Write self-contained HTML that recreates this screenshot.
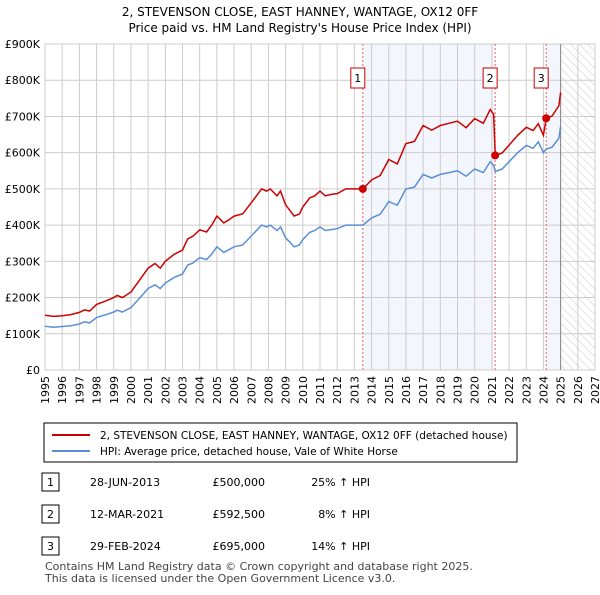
<!DOCTYPE html>
<html><head><meta charset="utf-8"><style>
body{margin:0;background:#fff;font-family:"Liberation Sans","DejaVu Sans",sans-serif;}
svg text{font-family:"DejaVu Sans","Liberation Sans",sans-serif;}
</style></head><body>
<svg id="chart" width="600" height="590" xmlns="http://www.w3.org/2000/svg">
<defs><pattern id="hatch" width="6" height="6" patternUnits="userSpaceOnUse" patternTransform="rotate(-45)"><line x1="0" y1="0" x2="0" y2="6" stroke="#ccc" stroke-width="1"/></pattern></defs>
<text x="300" y="16" text-anchor="middle" font-size="12" fill="#000">2, STEVENSON CLOSE, EAST HANNEY, WANTAGE, OX12 0FF</text>
<text x="300" y="32" text-anchor="middle" font-size="12" fill="#000">Price paid vs. HM Land Registry's House Price Index (HPI)</text>
<g id="plot"></g>
<g>
<rect x="44" y="423" width="473" height="39" fill="#fff" stroke="#000" stroke-width="1"/>
<line x1="52" y1="435" x2="90" y2="435" stroke="#cc0000" stroke-width="2"/>
<text x="100" y="439" font-size="10.5">2, STEVENSON CLOSE, EAST HANNEY, WANTAGE, OX12 0FF (detached house)</text>
<line x1="52" y1="451" x2="90" y2="451" stroke="#5b8ed6" stroke-width="2"/>
<text x="100" y="455" font-size="10.5">HPI: Average price, detached house, Vale of White Horse</text>
</g>
<g id="table" font-size="11"></g>
<text x="45" y="570" font-size="11" fill="#444">Contains HM Land Registry data © Crown copyright and database right 2025.</text>
<text x="45" y="582" font-size="11" fill="#444">This data is licensed under the Open Government Licence v3.0.</text>
</svg>
<script>
const years=[1995.0,1995.5,1996.0,1996.5,1997.0,1997.3,1997.6,1998.0,1998.5,1999.0,1999.2,1999.5,2000.0,2000.5,2001.0,2001.4,2001.7,2002.0,2002.5,2003.0,2003.3,2003.6,2004.0,2004.4,2004.7,2005.0,2005.4,2005.7,2006.0,2006.5,2007.0,2007.6,2007.9,2008.1,2008.5,2008.7,2009.0,2009.5,2009.8,2010.0,2010.4,2010.7,2011.0,2011.3,2011.7,2012.0,2012.5,2013.0,2013.5,2014.0,2014.5,2015.0,2015.5,2016.0,2016.5,2017.0,2017.5,2018.0,2018.5,2019.0,2019.5,2020.0,2020.5,2020.9,2021.1,2021.2,2021.6,2022.0,2022.5,2023.0,2023.4,2023.7,2024.0,2024.16,2024.5,2024.9,2025.0];
const hpi=[121,118,120,122,127,133,130,145,152,160,165,160,172,198,225,235,225,240,255,265,290,295,310,305,320,340,325,332,340,345,370,400,395,400,385,395,365,340,345,360,380,385,395,385,388,390,400,400,400,420,430,465,455,500,505,540,530,540,545,550,535,555,545,575,565,548,555,575,600,620,612,630,600,610,615,640,672];
const price=[151,148,150,153,159,166,163,181,190,200,206,200,215,248,281,294,281,300,319,331,362,369,387,381,400,425,406,415,425,431,462,500,494,500,481,494,456,425,431,450,475,481,494,481,485,487,500,500,500,525,537,581,569,625,631,675,662,675,681,687,669,694,681,719,706,592,599,621,648,670,661,680,648,695,701,730,766];
const saleYears=[2013.49,2021.19,2024.16];
const salePrices=[500,592.5,695];
const saleLabels=["1","2","3"];
const saleDates=["28-JUN-2013","12-MAR-2021","29-FEB-2024"];
const salePriceText=["£500,000","£592,500","£695,000"];
const saleHpiText=["25% ↑ HPI","8% ↑ HPI","14% ↑ HPI"];
const yTicks=[0,100,200,300,400,500,600,700,800,900];
const yTickLabels=["£0","£100K","£200K","£300K","£400K","£500K","£600K","£700K","£800K","£900K"];
const x0=45,x1=595,y0=370,y1=44,ymin=1995,ymax=2027;
const X=v=>x0+(v-ymin)/(ymax-ymin)*(x1-x0);
const Y=v=>y0-v/900*(y0-y1);
const NS="http://www.w3.org/2000/svg";
const plot=document.getElementById('plot');
function mk(tag,attrs,parent){const e=document.createElementNS(NS,tag);for(const k in attrs)e.setAttribute(k,attrs[k]);(parent||plot).appendChild(e);return e;}
let r=mk('rect',{x:X(saleYears[0]),y:y1,width:X(saleYears[1])-X(saleYears[0]),height:y0-y1,fill:'#eef2fc',opacity:0.7});


r=mk('rect',{x:X(saleYears[2]),y:y1,width:X(2025)-X(saleYears[2]),height:y0-y1,fill:'#eef2fc',opacity:0.7});


r=mk('rect',{x:X(2025),y:y1,width:X(2027)-X(2025),height:y0-y1,fill:'url(#hatch)'});


for(let yr=1995;yr<=2027;yr++){
 mk('line',{x1:X(yr),x2:X(yr),y1:y1,y2:y0,stroke:'#ccc','stroke-width':1});
 const t=mk('text',{x:0,y:0,transform:`translate(${X(yr)+4},376) rotate(-90)`,'text-anchor':'end','font-size':11});
 t.textContent=yr;
 
 
}
yTicks.forEach((v,i)=>{
 mk('line',{x1:x0,x2:x1,y1:Y(v),y2:Y(v),stroke:'#ccc','stroke-width':1});
 const t=mk('text',{x:40,y:Y(v)+4,'text-anchor':'end','font-size':11});
 t.textContent=yTickLabels[i];
 
 
});
mk('line',{x1:X(2025),x2:X(2025),y1:y1,y2:y0,stroke:'#888','stroke-width':1});
saleYears.forEach(s=>mk('line',{x1:X(s),x2:X(s),y1:y1,y2:y0,stroke:'#e86060','stroke-width':1,'stroke-dasharray':'2,2'}));
const pts=a=>years.map((yr,i)=>X(yr).toFixed(1)+','+Y(a[i]).toFixed(1)).join(' ');
let l=mk('polyline',{points:pts(hpi),fill:'none',stroke:'#5b8ed6','stroke-width':1.5});


l=mk('polyline',{points:pts(price),fill:'none',stroke:'#cc0000','stroke-width':1.5});


saleYears.forEach((s,i)=>{
 const c=mk('circle',{cx:X(s),cy:Y(salePrices[i]),r:4,fill:'#cc0000'});
 
 
 const g=mk('g',{});
 
 
 mk('rect',{x:X(s)-12,y:68,width:14,height:20,fill:'#fff',stroke:'#cc0000'},g);
 const t=mk('text',{x:X(s)-5,y:82,'text-anchor':'middle','font-size':11},g);t.textContent=saleLabels[i];
});
const tb=document.getElementById('table');
const rowsY=[482,514,546];
saleLabels.forEach((lab,i)=>{
 const g=mk('g',{},tb);
 
 
 const y=rowsY[i];
 mk('rect',{x:42,y:y-9,width:17,height:18,fill:'#fff',stroke:'#000'},g);
 let t=mk('text',{x:50.5,y:y+4,'text-anchor':'middle'},g);t.textContent=lab;
 t=mk('text',{x:90,y:y+4},g);t.textContent=saleDates[i];
 t=mk('text',{x:265,y:y+4,'text-anchor':'end'},g);t.textContent=salePriceText[i];
 t=mk('text',{x:370,y:y+4,'text-anchor':'end'},g);t.textContent=saleHpiText[i];
});
</script>
</body></html>
